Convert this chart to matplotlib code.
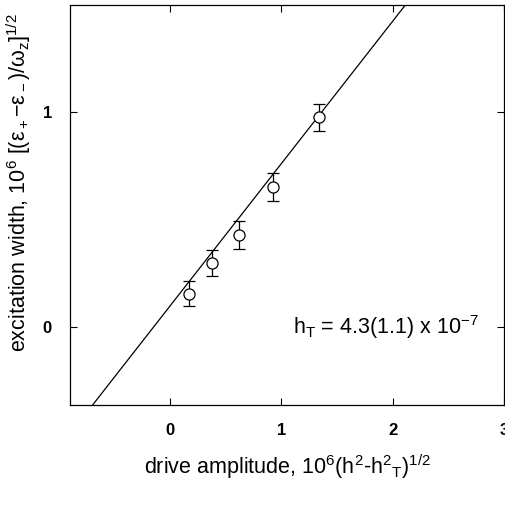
import matplotlib
matplotlib.use("Agg")
import matplotlib.pyplot as plt
import numpy as np

plt.rcParams['font.family'] = ['Liberation Sans', 'DejaVu Sans']
plt.rcParams['mathtext.fontset'] = 'custom'
plt.rcParams['mathtext.rm'] = 'Liberation Sans'
plt.rcParams['mathtext.it'] = 'Liberation Sans'
plt.rcParams['mathtext.bf'] = 'Liberation Sans:bold'

# measured points
drive = [0.165, 0.38, 0.62, 0.925, 1.34]
width = [0.157, 0.30, 0.427, 0.651, 0.975]
width_err = [0.058, 0.06, 0.065, 0.064, 0.063]

# linear fit
slope = 0.66
intercept = 0.10
fit_x = [-1.0, 3.0]

xticks = [0, 1, 2, 3]
yticks = [0, 1]

fig = plt.figure(figsize=(5.06, 5.12), dpi=100)
ax = fig.add_axes([70 / 506, 1 - 405 / 512, 434 / 506, 400 / 512])

xs = np.array(fit_x)
ax.plot(xs, slope * xs + intercept, "k-", lw=0.9)
ax.errorbar(drive, width, yerr=width_err, fmt="o", mfc="white", mec="k",
            ms=8, mew=0.9, ecolor="k", elinewidth=0.9, capsize=4, capthick=1.2)

ax.set_xlim(-0.9, 3.0)
ax.set_ylim(-0.36, 1.495)
ax.set_xticks(xticks)
ax.set_yticks(yticks)
ax.tick_params(direction="in", top=True, right=True, length=5, width=0.8,
               labelsize=12, pad=13)
for lab in ax.get_xticklabels() + ax.get_yticklabels():
    lab.set_fontweight("bold")
for s in ax.spines.values():
    s.set_linewidth(0.9)

ax.set_xlabel(r"drive amplitude, 10$^6$(h$^2$-h$^2$$_{\rm T}$)$^{1/2}$",
              fontsize=15.5, labelpad=10)
ax.set_ylabel(r"excitation width, 10$^6$ [(ε$_+$−ε$_-$)/ω$_z$]$^{1/2}$",
              fontsize=15.5)
ax.yaxis.set_label_coords(-0.085, 0.555)

ax.text(1.1, 0.0, r"h$_{\rm T}$ = 4.3(1.1) x 10$^{-7}$", fontsize=15.5,
        ha="left", va="center")

fig.savefig("out.png", dpi=100)
